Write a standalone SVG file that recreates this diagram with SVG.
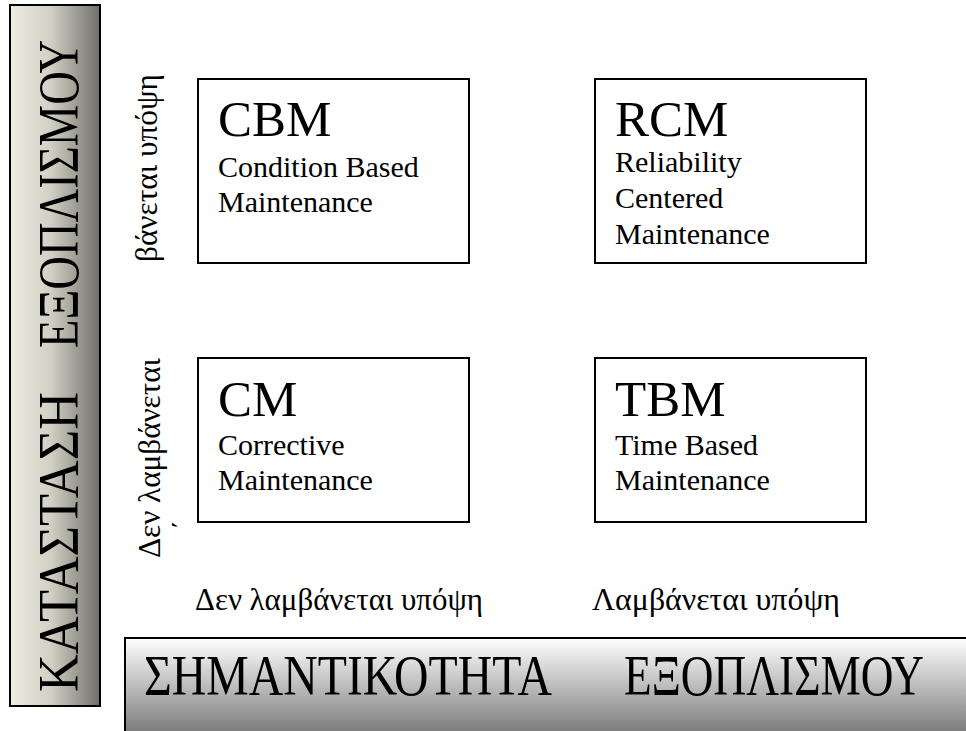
<svg xmlns="http://www.w3.org/2000/svg" width="966" height="731" viewBox="0 0 966 731">
<defs>
<linearGradient id="gLeft" x1="0" y1="0" x2="1" y2="0">
<stop offset="0" stop-color="#efede2"/>
<stop offset="0.45" stop-color="#d2d0c4"/>
<stop offset="1" stop-color="#6f6f6a"/>
</linearGradient>
<linearGradient id="gBottom" x1="0" y1="0" x2="0" y2="1">
<stop offset="0" stop-color="#ffffff"/>
<stop offset="1" stop-color="#747474"/>
</linearGradient>
</defs>
<style>
text{font-family:"Liberation Serif","Times New Roman","DejaVu Serif",serif;fill:#000}
.box{fill:#fff;stroke:#000;stroke-width:2}
.title{font-size:51px}
.body{font-size:30px}
.axis{font-size:31px}
.big{font-size:56px}
</style>
<rect width="966" height="731" fill="#fff"/>
<g id="left-bar">
<rect x="10" y="5" width="90" height="701" fill="url(#gLeft)" stroke="#000" stroke-width="2"/>
<text class="big" transform="translate(78,692) rotate(-90)" textLength="300" lengthAdjust="spacingAndGlyphs">ΚΑΤΑΣΤΑΣΗ</text>
<text class="big" transform="translate(78,348) rotate(-90)" textLength="308" lengthAdjust="spacingAndGlyphs">ΕΞΟΠΛΙΣΜΟΥ</text>
</g>
<g id="bottom-bar">
<rect x="125" y="638" width="850" height="100" fill="url(#gBottom)" stroke="#000" stroke-width="2"/>
<text class="big" x="144" y="695" textLength="408" lengthAdjust="spacingAndGlyphs">ΣΗΜΑΝΤΙΚΟΤΗΤΑ</text>
<text class="big" x="624" y="695" textLength="300" lengthAdjust="spacingAndGlyphs">ΕΞΟΠΛΙΣΜΟΥ</text>
</g>
<g id="axis-labels">
<text class="axis" transform="translate(157,262) rotate(-90)" textLength="188" lengthAdjust="spacingAndGlyphs">βάνεται υπόψη</text>
<text class="axis" transform="translate(160,558) rotate(-90)" textLength="200" lengthAdjust="spacingAndGlyphs">Δεν λαμβάνεται</text>
<text class="axis" transform="translate(194,530) rotate(-90)">΄</text>
<text class="axis" x="195" y="610" textLength="288" lengthAdjust="spacingAndGlyphs">Δεν λαμβάνεται υπόψη</text>
<text class="axis" x="592" y="610" textLength="248" lengthAdjust="spacingAndGlyphs">Λαμβάνεται υπόψη</text>
</g>
<g id="node-cbm">
<rect class="box" x="198" y="79" width="271" height="184"/>
<text class="title" x="218" y="136">CBM</text>
<text class="body" x="218" y="177">Condition Based</text>
<text class="body" x="218" y="212">Maintenance</text>
</g>
<g id="node-rcm">
<rect class="box" x="595" y="79" width="271" height="184"/>
<text class="title" x="615" y="136">RCM</text>
<text class="body" x="615" y="172">Reliability</text>
<text class="body" x="615" y="208">Centered</text>
<text class="body" x="615" y="244">Maintenance</text>
</g>
<g id="node-cm">
<rect class="box" x="198" y="358" width="271" height="164"/>
<text class="title" x="218" y="416">CM</text>
<text class="body" x="218" y="455">Corrective</text>
<text class="body" x="218" y="490">Maintenance</text>
</g>
<g id="node-tbm">
<rect class="box" x="595" y="358" width="271" height="164"/>
<text class="title" x="615" y="416">TBM</text>
<text class="body" x="615" y="455">Time Based</text>
<text class="body" x="615" y="490">Maintenance</text>
</g>
<g id="connectors"></g>
</svg>
